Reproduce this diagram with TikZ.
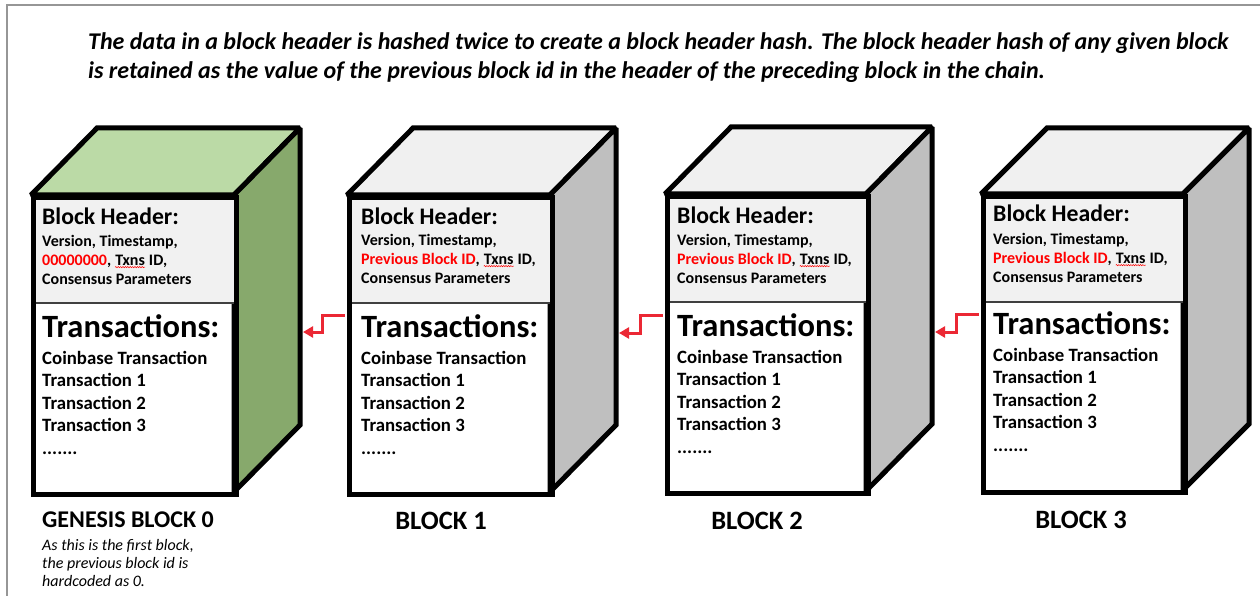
\documentclass[tikz,border=0pt]{standalone}
\usepackage{fontspec}
\setmainfont{Carlito}
\usetikzlibrary{arrows.meta,decorations.pathmorphing}

\definecolor{topgreen}{RGB}{187,218,166}
\definecolor{sidegreen}{RGB}{135,169,108}
\definecolor{topgray}{RGB}{240,240,240}
\definecolor{sidegray}{RGB}{191,191,191}
\definecolor{hdrgray}{RGB}{241,241,241}
\definecolor{linkred}{RGB}{235,40,52}
\definecolor{framegray}{RGB}{150,150,150}

\newcommand{\wavy}[1]{\tikz[baseline=(w.base)]{\node[inner sep=0pt] (w) {#1};
  \draw[red, line width=0.5pt, decorate, decoration={snake, amplitude=0.6pt, segment length=2.4pt}]
    ([yshift=-1.6pt]w.south west) -- ([yshift=-1.6pt]w.south east);}}

\tikzset{
  edge/.style={line width=5pt, line join=miter, miter limit=2},
  hdrbox/.style={anchor=north west, minimum width=203pt, minimum height=107pt, inner sep=0pt, fill=hdrgray, draw=black!75, line width=1.5pt},
  front/.style={anchor=north west, minimum width=203pt, minimum height=297pt, inner sep=0pt, draw, line width=5pt},
  hdtitle/.style={anchor=base west, inner sep=0pt, font=\bfseries\fontsize{23.7}{28}\selectfont},
  hdtext/.style={anchor=base west, inner sep=0pt, align=left, font=\bfseries\fontsize{16}{18.8}\selectfont},
  txtitle/.style={anchor=base west, inner sep=0pt, font=\bfseries\fontsize{32.5}{36}\selectfont},
  txtext/.style={anchor=base west, inner sep=0pt, align=left, font=\bfseries\fontsize{18.8}{22.4}\selectfont},
  blklabel/.style={anchor=base, inner sep=0pt, font=\bfseries\fontsize{26.5}{30}\selectfont},
  link/.style={draw=linkred, line width=3pt, -{Triangle[length=10pt,width=11pt]}},
}

\begin{document}
\begin{tikzpicture}[x=1pt, y=-1pt]
  \useasboundingbox (0,0) rectangle (1260,596);
  \draw[framegray, line width=2.5pt] (7,596) -- (7,5) -- (1260,5);

  \node[anchor=base west, inner sep=0pt, align=left, font=\bfseries\itshape\fontsize{24}{29}\selectfont] (title) at (88,79)
    {The data in a block header is hashed twice to create a block header hash. The block header hash of any given block\\
     is retained as the value of the previous block id in the header of the preceding block in the chain.};

  \filldraw[edge, fill=topgreen] (31,195) -- (97,128) -- (300,128) -- (234,195) -- cycle;
  \filldraw[edge, fill=sidegreen] (234,195) -- (300,128) -- (300,425) -- (234,492) -- cycle;
  \node[hdrbox] (h0) at (31,195) {};
  \node[front] (f0) at (31,195) {};
  \node[hdtitle] (ht0) at (42,224) {Block Header:};
  \node[hdtext] (hx0) at (42,284) {Version, Timestamp,\\ \textcolor{red}{00000000}, \wavy{Txns} ID,\\ Consensus Parameters};
  \node[txtitle] (tt0) at (42,337) {Transactions:};
  \node[txtext] (tx0) at (42,454) {Coinbase Transaction\\ Transaction 1\\ Transaction 2\\ Transaction 3\\ .......};

  \filldraw[edge, fill=topgray] (347,195) -- (413,128) -- (616,128) -- (550,195) -- cycle;
  \filldraw[edge, fill=sidegray] (550,195) -- (616,128) -- (616,425) -- (550,492) -- cycle;
  \node[hdrbox] (h1) at (347,195) {};
  \node[front] (f1) at (347,195) {};
  \node[hdtitle] (ht1) at (361,224) {Block Header:};
  \node[hdtext] (hx1) at (361,283) {Version, Timestamp,\\ \textcolor{red}{Previous Block ID}, \wavy{Txns} ID,\\ Consensus Parameters};
  \node[txtitle] (tt1) at (361,337) {Transactions:};
  \node[txtext] (tx1) at (361,454) {Coinbase Transaction\\ Transaction 1\\ Transaction 2\\ Transaction 3\\ .......};

  \filldraw[edge, fill=topgray] (665,194) -- (731,127) -- (932,127) -- (866,194) -- cycle;
  \filldraw[edge, fill=sidegray] (866,194) -- (932,127) -- (932,424) -- (866,491) -- cycle;
  \node[hdrbox, minimum width=201pt] (h2) at (665,194) {};
  \node[front, minimum width=201pt] (f2) at (665,194) {};
  \node[hdtitle] (ht2) at (677,223) {Block Header:};
  \node[hdtext] (hx2) at (677,283) {Version, Timestamp,\\ \textcolor{red}{Previous Block ID}, \wavy{Txns} ID,\\ Consensus Parameters};
  \node[txtitle] (tt2) at (677,336) {Transactions:};
  \node[txtext] (tx2) at (677,453) {Coinbase Transaction\\ Transaction 1\\ Transaction 2\\ Transaction 3\\ .......};

  \filldraw[edge, fill=topgray] (981,194) -- (1047,128) -- (1249,128) -- (1183,194) -- cycle;
  \filldraw[edge, fill=sidegray] (1183,194) -- (1249,128) -- (1249,424) -- (1183,490) -- cycle;
  \node[hdrbox, minimum width=202pt] (h3) at (981,194) {};
  \node[front, minimum width=202pt, minimum height=296pt] (f3) at (981,194) {};
  \node[hdtitle] (ht3) at (993,222) {Block Header:};
  \node[hdtext] (hx3) at (993,282) {Version, Timestamp,\\ \textcolor{red}{Previous Block ID}, \wavy{Txns} ID,\\ Consensus Parameters};
  \node[txtitle] (tt3) at (993,334) {Transactions:};
  \node[txtext] (tx3) at (993,451) {Coinbase Transaction\\ Transaction 1\\ Transaction 2\\ Transaction 3\\ .......};

  \node[anchor=base west, inner sep=0pt, font=\bfseries\fontsize{24}{28}\selectfont] (l0) at (42,527) {GENESIS BLOCK 0};
  \node[anchor=base west, inner sep=0pt, align=left, font=\itshape\fontsize{16}{18}\selectfont] (note) at (42,586)
    {As this is the first block,\\ the previous block id is\\ hardcoded as 0.};
  \node[blklabel] (l1) at (441,529) {BLOCK 1};
  \node[blklabel] (l2) at (757,529) {BLOCK 2};
  \node[blklabel] (l3) at (1081,528) {BLOCK 3};

  \coordinate (r0) at (303,332);
  \coordinate (r1) at (619,333);
  \coordinate (r2) at (935,332);
  \draw[link] ([shift={(-2.5pt,-12pt)}]h1.south west) -- ++(-22,0) |- (r0);
  \draw[link] ([shift={(-2.5pt,-13pt)}]h2.south west) -- ++(-22,0) |- (r1);
  \draw[link] ([shift={(-2.5pt,-12pt)}]h3.south west) -- ++(-22,0) |- (r2);
\end{tikzpicture}
\end{document}
